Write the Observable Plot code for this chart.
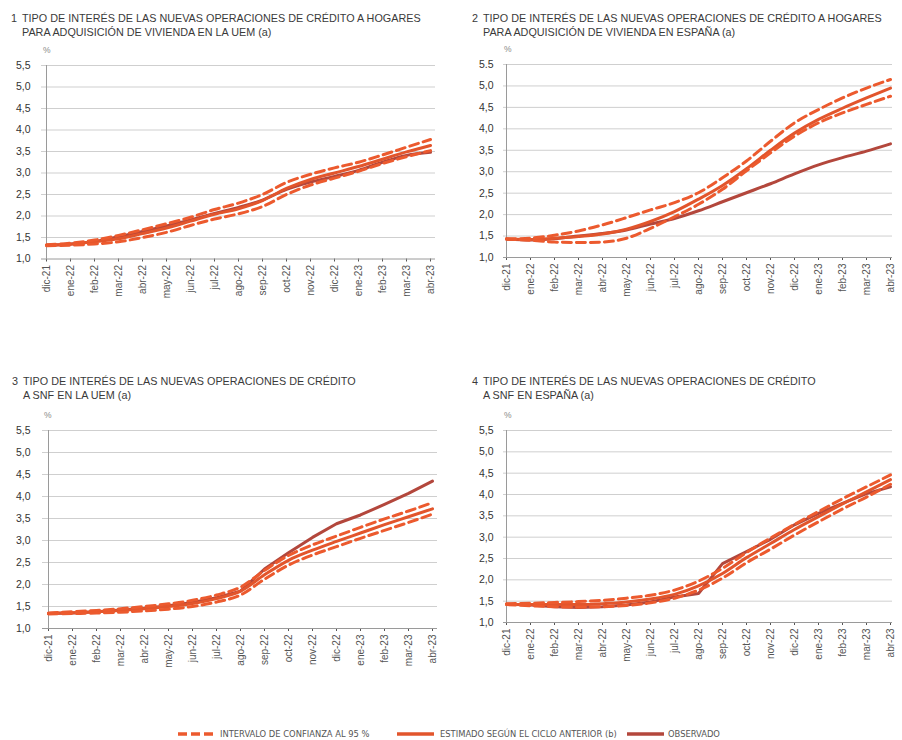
<!DOCTYPE html>
<html><head><meta charset="utf-8">
<script src="https://cdn.jsdelivr.net/npm/d3@7"></script>
<script src="https://cdn.jsdelivr.net/npm/@observablehq/plot@0.6"></script>
<style>
body{margin:0;background:#fff;font-family:"Liberation Sans",Arial,sans-serif;}
#root{position:relative;width:902px;height:740px;overflow:hidden;background:#fff;}
.title{position:absolute;font-size:10.8px;color:#3a3a3a;line-height:13.5px;white-space:nowrap;}
.title .n{position:absolute;left:-11px;top:0;}
.pct{position:absolute;font-size:8.5px;color:#888;}
.chart{position:absolute;}
.legend{position:absolute;top:727px;left:0;width:902px;height:16px;font-family:"Liberation Sans Narrow","DejaVu Sans Condensed",sans-serif;font-stretch:condensed;font-size:9.3px;color:#555;}
.legend .it{position:absolute;top:0;white-space:nowrap;}
.legend svg{position:absolute;top:0;}
</style>
</head><body>
<div id="root"></div>
<script>
const months = ["dic-21","ene-22","feb-22","mar-22","abr-22","may-22","jun-22","jul-22","ago-22","sep-22","oct-22","nov-22","dic-22","ene-23","feb-23","mar-23","abr-23"];
const yTicks = [1,1.5,2,2.5,3,3.5,4,4.5,5,5.5];

// Panel 1: hogares vivienda UEM
const p1Obs = [1.32,1.35,1.41,1.52,1.64,1.77,1.91,2.06,2.20,2.37,2.62,2.79,2.92,3.06,3.25,3.41,3.48];
const p1Est = [1.32,1.345,1.40,1.47,1.59,1.72,1.88,2.04,2.17,2.36,2.64,2.85,3.00,3.15,3.32,3.49,3.64];
const p1Hi  = [1.33,1.37,1.44,1.55,1.68,1.82,1.97,2.15,2.30,2.50,2.78,2.97,3.12,3.25,3.42,3.60,3.78];
const p1Lo  = [1.31,1.32,1.35,1.40,1.50,1.62,1.78,1.93,2.05,2.22,2.50,2.72,2.88,3.04,3.22,3.38,3.52];

// Panel 2: hogares vivienda España
const p2Obs = [1.43,1.41,1.44,1.50,1.56,1.64,1.78,1.91,2.09,2.30,2.51,2.72,2.95,3.16,3.33,3.48,3.65];
const p2Est = [1.43,1.42,1.45,1.49,1.55,1.66,1.84,2.07,2.36,2.68,3.07,3.50,3.90,4.22,4.48,4.72,4.95];
const p2Hi  = [1.43,1.45,1.52,1.62,1.76,1.93,2.11,2.28,2.51,2.86,3.25,3.71,4.14,4.45,4.72,4.95,5.15];
const p2Lo  = [1.43,1.40,1.36,1.35,1.36,1.45,1.68,1.95,2.24,2.59,3.02,3.44,3.83,4.14,4.37,4.57,4.76];

// Panel 3: SNF UEM
const p3Obs = [1.34,1.35,1.38,1.42,1.46,1.52,1.59,1.70,1.85,2.35,2.72,3.07,3.38,3.58,3.82,4.07,4.35];
const p3Est = [1.34,1.36,1.38,1.41,1.45,1.50,1.57,1.68,1.85,2.22,2.55,2.78,2.98,3.17,3.36,3.54,3.72];
const p3Hi  = [1.35,1.38,1.41,1.45,1.50,1.56,1.64,1.76,1.94,2.32,2.66,2.90,3.10,3.30,3.49,3.67,3.86];
const p3Lo  = [1.33,1.34,1.35,1.37,1.40,1.44,1.50,1.60,1.76,2.12,2.44,2.67,2.86,3.05,3.23,3.41,3.60];

// Panel 4: SNF España
const p4Obs = [1.43,1.41,1.37,1.35,1.37,1.41,1.48,1.60,1.68,2.38,2.66,2.95,3.29,3.56,3.79,4.02,4.18];
const p4Est = [1.43,1.42,1.42,1.42,1.44,1.48,1.55,1.66,1.86,2.15,2.52,2.85,3.18,3.48,3.78,4.06,4.35];
const p4Hi  = [1.44,1.45,1.47,1.49,1.52,1.57,1.64,1.76,1.97,2.27,2.64,2.98,3.30,3.60,3.90,4.18,4.46];
const p4Lo  = [1.42,1.39,1.37,1.36,1.37,1.40,1.46,1.57,1.76,2.04,2.40,2.72,3.05,3.36,3.66,3.94,4.24];

const titles = [
  ["1","TIPO DE INTERÉS DE LAS NUEVAS OPERACIONES DE CRÉDITO A HOGARES","PARA ADQUISICIÓN DE VIVIENDA EN LA UEM (a)"],
  ["2","TIPO DE INTERÉS DE LAS NUEVAS OPERACIONES DE CRÉDITO A HOGARES","PARA ADQUISICIÓN DE VIVIENDA EN ESPAÑA (a)"],
  ["3","TIPO DE INTERÉS DE LAS NUEVAS OPERACIONES DE CRÉDITO","A SNF EN LA UEM (a)"],
  ["4","TIPO DE INTERÉS DE LAS NUEVAS OPERACIONES DE CRÉDITO","A SNF EN ESPAÑA (a)"]
];
const legendLabels = ["INTERVALO DE CONFIANZA AL 95 %","ESTIMADO SEGÚN EL CICLO ANTERIOR (b)","OBSERVADO"];

const C_DASH = "#ec5a2e", C_EST = "#e2552c", C_OBS = "#b3473c";

const root = document.getElementById("root");

function fmtComma(d){ return d.toFixed(1).replace(".", ","); }

function panel(cfg){
  const lineOpts = (curve) => ({x:(d,i)=>months[i], y:d=>d, curve});
  const chart = Plot.plot({
    width: cfg.w, height: cfg.h,
    marginLeft: cfg.ml, marginRight: cfg.mr, marginTop: cfg.mt, marginBottom: cfg.mb,
    style:{fontFamily:"'Liberation Sans', Arial, sans-serif", fontSize:"10px", color:"#555", background:"transparent", overflow:"visible"},
    x:{type:"point", domain: months, padding:0, label:null, tickRotate:-90, tickSize:3, tickPadding:3},
    y:{domain:[1,5.5], ticks:yTicks, label:null, tickSize:0, tickPadding:cfg.tp, tickFormat: cfg.fmt || fmtComma},
    marks:[
      Plot.ruleY(yTicks.slice(1), {stroke:"#cfcfcf", strokeWidth:1}),
      Plot.ruleY([1], {stroke:"#9a9a9a", strokeWidth:1}),
      Plot.ruleX([months[0]], {y1:1, y2:5.5, stroke:"#9a9a9a", strokeWidth:1}),
      Plot.line(cfg.obs, {...lineOpts(cfg.obsCurve || "monotone-x"), stroke:C_OBS, strokeWidth:3}),
      Plot.line(cfg.est, {...lineOpts("monotone-x"), stroke:C_EST, strokeWidth:3}),
      Plot.line(cfg.hi, {...lineOpts("monotone-x"), stroke:C_DASH, strokeWidth:3, strokeDasharray:"9,5"}),
      Plot.line(cfg.lo, {...lineOpts("monotone-x"), stroke:C_DASH, strokeWidth:3, strokeDasharray:"9,5"})
    ]
  });
  const wrap = document.createElement("div");
  wrap.className = "chart";
  wrap.style.left = cfg.left + "px";
  wrap.style.top = cfg.top + "px";
  wrap.appendChild(chart);
  root.appendChild(wrap);
  chart.querySelectorAll('[aria-label="y-axis tick label"]').forEach(g=>{g.setAttribute("font-size","10.5");g.setAttribute("fill","#333");});

  const t = document.createElement("div");
  t.className = "title";
  t.style.left = cfg.tx + "px";
  t.style.top = cfg.ty + "px";
  t.innerHTML = `<span class="n">${cfg.title[0]}</span>${cfg.title[1]}<br>${cfg.title[2]}`;
  root.appendChild(t);

  const p = document.createElement("div");
  p.className = "pct";
  p.textContent = "%";
  p.style.left = cfg.px + "px";
  p.style.top = cfg.py + "px";
  root.appendChild(p);
}

panel({obs:p1Obs, est:p1Est, hi:p1Hi, lo:p1Lo, title:titles[0],
  left:0, top:55, w:445, h:265, ml:41, mr:10, mt:10, mb:61.5, tp:11,
  tx:22, ty:12, px:43, py:45});
panel({obs:p2Obs, est:p2Est, hi:p2Hi, lo:p2Lo, title:titles[1],
  left:460, top:54, w:442, h:265, ml:43, mr:10, mt:10, mb:62, tp:10,
  fmt: d => d === 5.5 ? "5.5" : fmtComma(d),
  tx:483, ty:12, px:504, py:44});
panel({obs:p3Obs, est:p3Est, hi:p3Hi, lo:p3Lo, title:titles[2], obsCurve:"linear",
  left:0, top:420, w:447, h:265, ml:42, mr:10, mt:10, mb:57, tp:12,
  tx:23, ty:375, px:44, py:410});
panel({obs:p4Obs, est:p4Est, hi:p4Hi, lo:p4Lo, title:titles[3], obsCurve:"linear",
  left:460, top:420, w:442, h:265, ml:43, mr:10, mt:10, mb:63, tp:10,
  tx:483, ty:375, px:504, py:410});

// Legend
const leg = document.createElement("div");
leg.className = "legend";
const items = [
  {x:178, tx:220, color:C_DASH, dash:"9,4"},
  {x:397, tx:440, color:C_EST, dash:null},
  {x:627, tx:668, color:C_OBS, dash:null}
];
items.forEach((it,i)=>{
  const svg = d3.create("svg").attr("width",38).attr("height",14).style("left",it.x+"px");
  svg.append("line").attr("x1",0).attr("x2",37).attr("y1",7).attr("y2",7)
    .attr("stroke",it.color).attr("stroke-width",3.5).attr("stroke-dasharray",it.dash);
  leg.appendChild(svg.node());
  const s = document.createElement("span");
  s.className = "it";
  s.style.left = it.tx + "px";
  s.style.top = "1px";
  s.textContent = legendLabels[i];
  leg.appendChild(s);
});
root.appendChild(leg);
</script>
</body></html>
